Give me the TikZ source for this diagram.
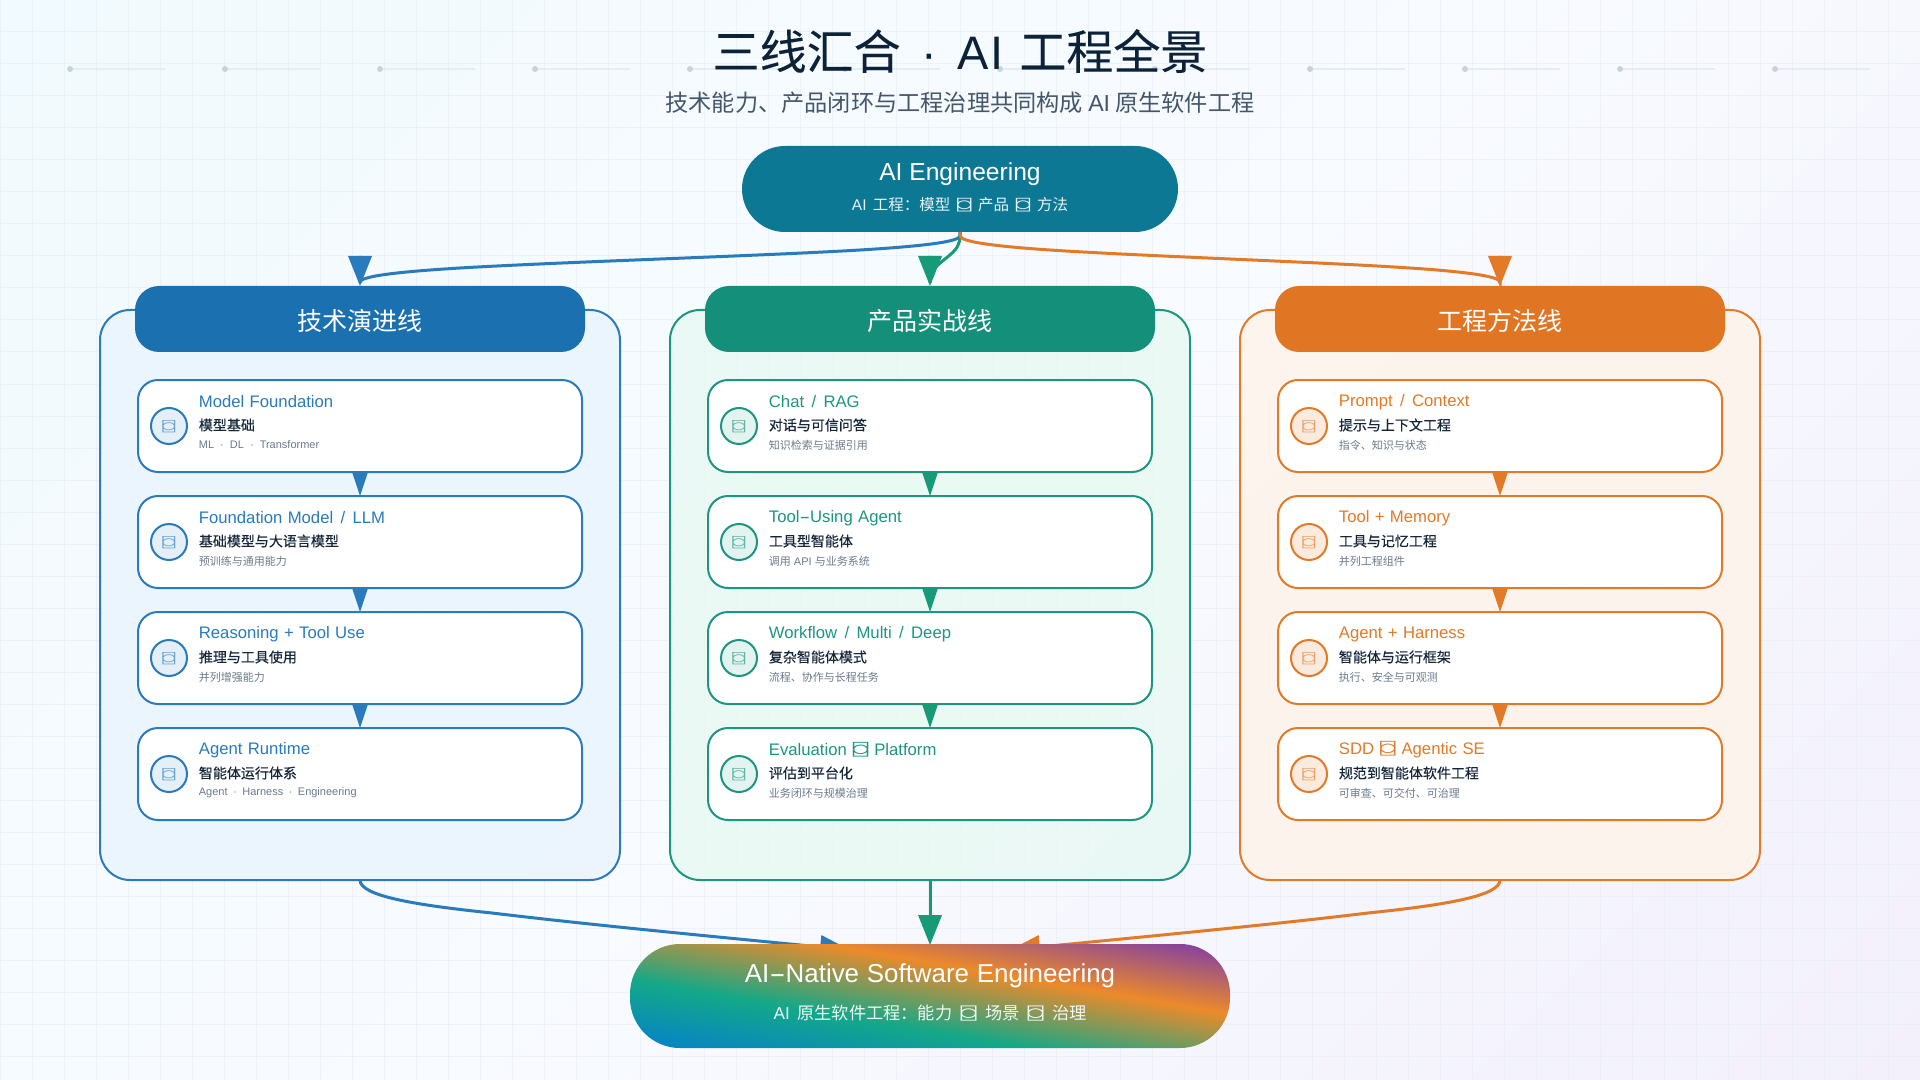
\documentclass[tikz,border=0pt]{standalone}
\usepackage{fontspec}
\usepackage{graphicx}
\usetikzlibrary{arrows.meta,calc}
\setmainfont{Liberation Sans}
\newfontfamily\cjk{Noto Sans CJK SC}
\newfontfamily\cjkm[FakeBold=0.35]{Noto Sans CJK SC}
\newfontfamily\cjkt[FakeBold=0.15]{Noto Sans CJK SC}
\newfontfamily\symf{DejaVu Sans Mono}
\newcommand\C[1]{{\cjk #1}}
\newcommand\T{\makebox[1em]{\smash{\scalebox{1.55}[.95]{\symf ⌼}}}}
\newcommand\TI{\makebox[1em]{\smash{\raisebox{-.38em}{\scalebox{1.55}[.95]{\symf ⌼}}}}}
\newcommand\SL{\hspace{.12em}/\hspace{.12em}}
\newcommand\HY{\scalebox{1.9}[1]{-}}
\newcommand\fsz[1]{\fontsize{#1pt}{#1pt}\selectfont}
\newcommand\wsp[1]{\spaceskip #1em\relax}
\definecolor{blueA}{HTML}{1B70B0}
\definecolor{blueB}{HTML}{2A7BBC}
\definecolor{greenA}{HTML}{14907A}
\definecolor{greenB}{HTML}{179A78}
\definecolor{greenC}{HTML}{1C9680}
\definecolor{orangeA}{HTML}{E07623}
\definecolor{orangeB}{HTML}{E27A28}
\definecolor{blueT}{HTML}{EAF5FE}
\definecolor{greenT}{HTML}{E9F9F4}
\definecolor{orangeT}{HTML}{FEF4EA}
\definecolor{blueI}{HTML}{E4EFF8}
\definecolor{greenI}{HTML}{E3F3EF}
\definecolor{orangeI}{HTML}{FBEBDE}
\definecolor{inkA}{HTML}{0C2238}
\definecolor{inkB}{HTML}{445669}
\definecolor{inkC}{HTML}{14263A}
\definecolor{inkD}{HTML}{6B7A8C}
\definecolor{gridc}{HTML}{E3ECF4}
\definecolor{dotc}{HTML}{C6D3DF}
\definecolor{dashc}{HTML}{E5ECF3}
\definecolor{pillc}{HTML}{0C7894}
\definecolor{bgA}{HTML}{F1FAFE}
\definecolor{bgB}{HTML}{F8FBFF}
\definecolor{bgC}{HTML}{F3F0FC}
\definecolor{gA}{HTML}{0480CC}
\definecolor{gB}{HTML}{14A888}
\definecolor{gC}{HTML}{EC8A2A}
\definecolor{gD}{HTML}{7C3AAC}
\pgfdeclarehorizontalshading{bgshade}{100bp}{color(0bp)=(bgA);color(14.65bp)=(bgA);color(50bp)=(bgB);color(85.35bp)=(bgC);color(100bp)=(bgC)}
\pgfdeclarehorizontalshading{pillshade}{100bp}{color(0bp)=(gA);color(14.65bp)=(gA);color(38bp)=(gB);color(61.5bp)=(gC);color(85.35bp)=(gD);color(100bp)=(gD)}
\tikzset{
  flow/.style={line width=1.5pt,-{Triangle[length=15pt,width=12pt,line width=0pt,sep=0pt]}},
  linkflow/.style={line width=0.5pt,-{Triangle[length=12pt,width=8pt,line width=0pt,sep=0pt]}},
  panel/.style={minimum width=260pt,minimum height=285pt,rounded corners=15pt,line width=1pt,inner sep=0pt,outer sep=0pt,fill opacity=.85},
  headbox/.style={minimum width=225pt,minimum height=33pt,rounded corners=12pt,inner sep=0pt,outer sep=0pt},
  headtext/.style={inner sep=0pt,text=white,font=\cjk\fsz{12.5}},
  cardbox/.style={minimum width=222pt,minimum height=46pt,rounded corners=10pt,line width=1pt,fill=white,inner sep=0pt,outer sep=0pt},
  iconbox/.style={circle,minimum size=18pt,line width=1pt,inner sep=0pt,outer sep=0pt},
  cardtitle/.style={anchor=west,inner sep=0pt,font=\fsz{8.35}\wsp{.32}},
  cardcn/.style={anchor=west,inner sep=0pt,font=\cjkm\fsz{7},text=inkC},
  cardsmall/.style={anchor=west,inner sep=0pt,font=\fsz{5.5},text=inkD},
}
% #1 name #2 centre x #3 centre y #4 colour #5 tint #6 title #7 cn #8 small
\newcommand\card[8]{
  \node[cardbox,draw=#4] (#1) at (#2,#3) {};
  \node[iconbox,draw=#4,fill=#5,text=#4!70] (#1i) at (#2-191,#3) {\fsz{7}\TI};
  \node[cardtitle,text=#4] (#1t) at (#2-161.5,#3-24) {#6};
  \node[cardcn] (#1c) at (#2-161.5,#3-1) {#7};
  \node[cardsmall] (#1s) at (#2-161.5,#3+19) {#8};
}
\newcommand\flowcurve[3]{
  \draw[flow,#1] let \p1=(#2),\p2=(#3) in (\p1)
    -- ({\x1},{\y1+.0556*(\y2-\y1)})
    .. controls ({\x1},{\y1+.1111*(\y2-\y1)}) and ({\x1},{\y1+.2222*(\y2-\y1)})
    .. ({\x1+.1667*(\x2-\x1)},{\y1+.3333*(\y2-\y1)})
    .. controls ({\x1+.3333*(\x2-\x1)},{\y1+.4444*(\y2-\y1)}) and ({\x1+.6667*(\x2-\x1)},{\y1+.5556*(\y2-\y1)})
    .. ({\x1+.8333*(\x2-\x1)},{\y1+.6667*(\y2-\y1)})
    .. controls ({\x2},{\y1+.7778*(\y2-\y1)}) and ({\x2},{\y1+.8889*(\y2-\y1)})
    .. ({\x2},{\y1+.9444*(\y2-\y1)})
    -- (\p2);
}
\begin{document}
\begin{tikzpicture}[x=.5pt,y=-.5pt]
\useasboundingbox (0,0) rectangle (1920,1080);
\shade[shading=bgshade,shading angle=-45] (0,0) rectangle (1920,1080);
\foreach \gx in {0,32,...,1920} \draw[gridc,line width=.5pt,opacity=.55] (\gx,0) -- (\gx,1080);
\foreach \gy in {0,32,...,1080} \draw[gridc,line width=.5pt,opacity=.55] (0,\gy) -- (1920,\gy);
\foreach \dx in {70,225,380,535,690,845,1000,1155,1310,1465,1620,1775}{
  \draw[dashc,line width=1pt] (\dx,69) -- (\dx+95,69);
  \fill[dotc] (\dx,69) circle (1.5pt);
}
\node[inner sep=0pt,text=inkA,font=\fsz{23.5}] (title) at (960,51) {{\cjkt 三线汇合}\hspace{.44em}·\hspace{.44em}A\hspace{.04em}I\hspace{.05em} {\cjkt 工程全景}};
\node[inner sep=0pt,text=inkB,font=\cjk\fsz{11.6}] (subtitle) at (960,103) {技术能力、产品闭环与工程治理共同构成 {\rmfamily AI} 原生软件工程};

\node[panel,draw=blueB,fill=blueT] (p1) at (360,595) {};
\node[panel,draw=greenC,fill=greenT] (p2) at (930,595) {};
\node[panel,draw=orangeB,fill=orangeT] (p3) at (1500,595) {};

\node[minimum width=218pt,minimum height=43pt,rounded corners=21.5pt,fill=pillc,inner sep=0pt,outer sep=0pt] (top) at (960,189) {};
\coordinate (h1n) at (360,286);
\coordinate (h2n) at (930,286);
\coordinate (h3n) at (1500,286);
\flowcurve{blueB}{top.south}{h1n}
\flowcurve{greenB}{top.south}{h2n}
\flowcurve{orangeB}{top.south}{h3n}
\node[inner sep=0pt,text=white,font=\fsz{12.3}] (topa) at (960,174) {AI Engineering};
\node[inner sep=0pt,text=white!90!pillc,font=\fsz{7.75}\wsp{.4}] (topb) at (960,205) {AI \C{工程：模型} \T\ \C{产品} \T\ \C{方法}};

\node[headbox,fill=blueA] (h1) at (360,319) {};
\node[headbox,fill=greenA] (h2) at (930,319) {};
\node[headbox,fill=orangeA] (h3) at (1500,319) {};
\node[headtext] (h1t) at (360,320.5) {技术演进线};
\node[headtext] (h2t) at (930,320.5) {产品实战线};
\node[headtext] (h3t) at (1500,320.5) {工程方法线};

\card{a1}{360}{426}{blueB}{blueI}{Model Foundation}{模型基础}{ML\hspace{.55em}·\hspace{.55em}DL\hspace{.55em}·\hspace{.55em}Transformer}
\card{a2}{360}{542}{blueB}{blueI}{Foundation Model \SL\ LLM}{基础模型与大语言模型}{\C{预训练与通用能力}}
\card{a3}{360}{658}{blueB}{blueI}{Reasoning + Tool Use}{推理与工具使用}{\C{并列增强能力}}
\card{a4}{360}{774}{blueB}{blueI}{Agent Runtime}{智能体运行体系}{Agent\hspace{.5em}·\hspace{.5em}Harness\hspace{.5em}·\hspace{.5em}Engineering}
\card{b1}{930}{426}{greenC}{greenI}{Chat \SL\ RAG}{对话与可信问答}{\C{知识检索与证据引用}}
\card{b2}{930}{542}{greenC}{greenI}{Tool\HY Using Agent}{工具型智能体}{\C{调用} API \C{与业务系统}}
\card{b3}{930}{658}{greenC}{greenI}{Workflow \SL\ Multi \SL\ Deep}{复杂智能体模式}{\C{流程、协作与长程任务}}
\card{b4}{930}{774}{greenC}{greenI}{Evaluation \T\ Platform}{评估到平台化}{\C{业务闭环与规模治理}}
\card{c1}{1500}{426}{orangeB}{orangeI}{Prompt \SL\ Context}{提示与上下文工程}{\C{指令、知识与状态}}
\card{c2}{1500}{542}{orangeB}{orangeI}{Tool + Memory}{工具与记忆工程}{\C{并列工程组件}}
\card{c3}{1500}{658}{orangeB}{orangeI}{Agent + Harness}{智能体与运行框架}{\C{执行、安全与可观测}}
\card{c4}{1500}{774}{orangeB}{orangeI}{SDD \T\ Agentic SE}{规范到智能体软件工程}{\C{可审查、可交付、可治理}}

\draw[linkflow,blueB] (a1.south) -- (a2.north);
\draw[linkflow,blueB] (a2.south) -- (a3.north);
\draw[linkflow,blueB] (a3.south) -- (a4.north);
\draw[linkflow,greenB] (b1.south) -- (b2.north);
\draw[linkflow,greenB] (b2.south) -- (b3.north);
\draw[linkflow,greenB] (b3.south) -- (b4.north);
\draw[linkflow,orangeB] (c1.south) -- (c2.north);
\draw[linkflow,orangeB] (c2.south) -- (c3.north);
\draw[linkflow,orangeB] (c3.south) -- (c4.north);

\coordinate (bl) at (850,950);
\coordinate (br) at (1010,950);
\draw[flow,blueB] (p1.south) .. controls +(0,16) and (415,905) .. (492,913) .. controls (600,926) and (730,938) .. (bl);
\draw[flow,orangeB] (p3.south) .. controls +(0,16) and (1445,905) .. (1368,913) .. controls (1260,926) and (1130,938) .. (br);
\coordinate (mt) at (930,945);
\draw[flow,greenB] (p2.south) -- (mt);
\begin{scope}
  \clip[rounded corners=25pt] (630,944) rectangle (1230,1048);
  \begin{scope}[shift={(930,996)},xscale=5.978,yscale=1.036,rotate=45]
    \pgflowlevelsynccm
    \pgfuseshading{pillshade}
  \end{scope}
\end{scope}
\node[inner sep=0,minimum width=300pt,minimum height=52pt] (bot) at (930,996) {};
\node[inner sep=0pt,text=white,font=\fsz{12.95}\wsp{.3}] (bota) at (930,976) {AI\HY Native Software Engineering};
\node[inner sep=0pt,text=white!92!gB,font=\fsz{8.6}\wsp{.45}] (botb) at (930,1013) {AI \C{原生软件工程：能力} \T\ \C{场景} \T\ \C{治理}};
\end{tikzpicture}
\end{document}
